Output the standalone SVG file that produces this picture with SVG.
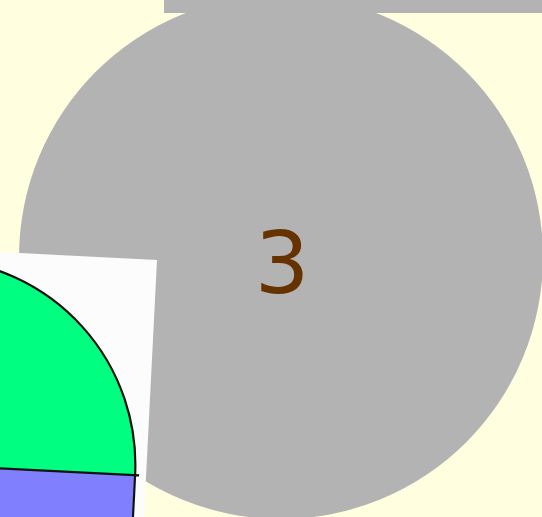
<svg xmlns="http://www.w3.org/2000/svg" width="542" height="517" viewBox="0 0 542 517">
  <style>
    .gray { fill: #b3b3b3; }
    .lbl { font-family: "DejaVu Sans", "Liberation Sans", sans-serif; font-size: 86px; fill: #663300; text-anchor: middle; }
    .outline { stroke: #111; stroke-width: 2.2; fill: none; }
  </style>
  <rect x="0" y="0" width="542" height="517" fill="#ffffe0"/>
  <g id="topbar">
    <rect class="gray" x="164" y="-10" width="390" height="23"/>
  </g>
  <g id="node3">
    <circle class="gray" cx="281" cy="257" r="262"/>
    <text class="lbl" x="282" y="293">3</text>
  </g>
  <g id="picture" transform="rotate(2.9 157 260)">
    <rect x="-200" y="260" width="357" height="320" fill="#fcfcfd"/>
    <path d="M -60 476 L -60 270 A 206 206 0 0 1 146 476 Z" fill="#00ff80"/>
    <rect x="-200" y="476" width="346" height="110" fill="#8080ff"/>
    <path class="outline" d="M -60 270 A 206 206 0 0 1 146 476"/>
    <path class="outline" d="M -200 476 L 150 476 M 146 476 L 146 580"/>
  </g>
</svg>
